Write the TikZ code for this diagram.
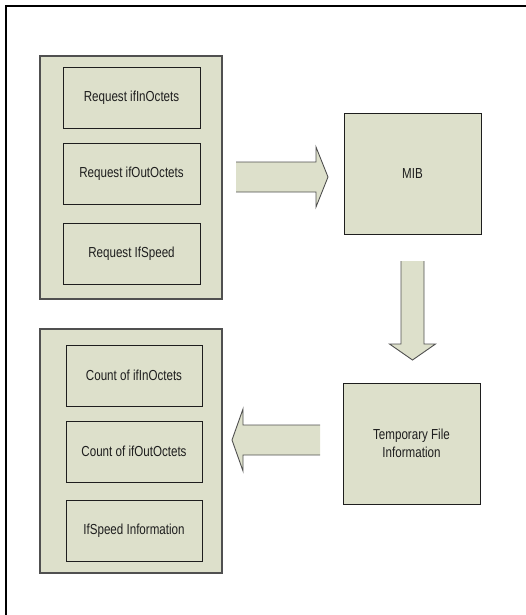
\documentclass[tikz,border=0pt]{standalone}
\usepackage{fontspec}
\setmainfont{Liberation Sans}[FakeStretch=0.8]
\usetikzlibrary{calc}
\definecolor{Sage}{HTML}{DDE0CB}
\definecolor{Edge}{HTML}{505050}
\definecolor{Ink}{HTML}{1E1E1E}
\newcommand{\blockarrow}[5]{% tail, tip, shaft half, head half, head length
  \coordinate (hb) at ($(#2)!#5!(#1)$);
  \fill[arrowfill] ($(#1)!#3!90:(#2)$) -- ($(hb)!#3!90:(#2)$) -- ($(hb)!#4!90:(#2)$) -- (#2)
    -- ($(hb)!#4!-90:(#2)$) -- ($(hb)!#3!-90:(#2)$) -- ($(#1)!#3!-90:(#2)$) -- cycle;
  \draw[arrowline] ($(#1)!#3!90:(#2)$) -- ($(hb)!#3!90:(#2)$) -- ($(hb)!#4!90:(#2)$) -- (#2)
    -- ($(hb)!#4!-90:(#2)$) -- ($(hb)!#3!-90:(#2)$) -- ($(#1)!#3!-90:(#2)$);}
\tikzset{group/.style={draw=Edge,fill=Sage,line width=1.2pt,inner sep=0pt,minimum width=182pt},
  item/.style={draw=Ink,fill=Sage,line width=0.9pt,inner sep=0pt,minimum width=137pt,
    minimum height=61pt,align=center,font=\fontsize{14.5}{18.5}\selectfont,text=Ink},
  block/.style={item,minimum height=121pt},
  arrowfill/.style={fill=Sage},
  arrowline/.style={draw=Edge,line width=0.9pt,line join=miter}}

\begin{document}
\begin{tikzpicture}[x=1pt,y=-1pt]
  \useasboundingbox (0,0) rectangle (526,615);
  \draw[line width=2pt] (6,615) -- (6,6) -- (526,6);

  % requests
  \node[group,minimum height=243pt] (reqgrp) at (131,177.5) {};
  \node[item] (req1) at (131.5,97.5) {Request ifInOctets};
  \node[item] (req2) at (131.5,173.5) {Request ifOutOctets};
  \node[item] (req3) at (131.5,253.5) {Request IfSpeed};

  \node[block] (mib) at (412.5,173.5) {MIB};
  \node[block] (tmp) at (411.5,443.5) {Temporary File\\Information};

  % counts
  \node[group,minimum height=244pt] (cntgrp) at (131,451) {};
  \node[item,minimum width=136pt] (cnt1) at (134,375.5) {Count of ifInOctets};
  \node[item,minimum width=136pt] (cnt2) at (134,451.5) {Count of ifOutOctets};
  \node[item,minimum width=136pt] (cnt3) at (134,531) {IfSpeed Information};

  \coordinate (t1) at (236,177);
  \coordinate (h1) at (328,177);
  \coordinate (t2) at (412.5,261);
  \coordinate (h2) at (412.5,360);
  \coordinate (t3) at (320,440);
  \coordinate (h3) at (232,440);
  \blockarrow{t1}{h1}{15pt}{30pt}{12pt}
  \blockarrow{t2}{h2}{11.5pt}{23pt}{16pt}
  \blockarrow{t3}{h3}{15pt}{31pt}{11pt}
\end{tikzpicture}
\end{document}
